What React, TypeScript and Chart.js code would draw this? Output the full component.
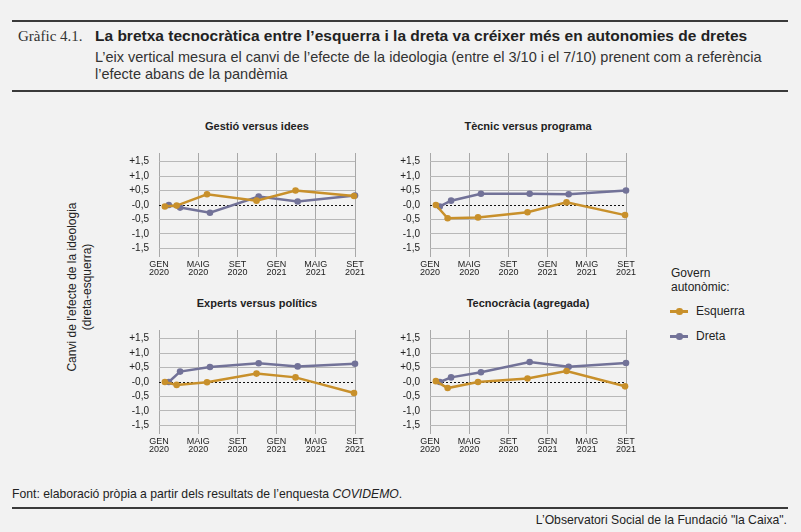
import { useEffect, useRef } from 'react';
import { Chart, registerables } from 'chart.js';

Chart.register(...registerables);

// eix X: mesos des de gener 2020
const monthTicks = [0, 4, 8, 12, 16, 20];
const monthLabels = [
  ['GEN', '2020'],
  ['MAIG', '2020'],
  ['SET', '2020'],
  ['GEN', '2021'],
  ['MAIG', '2021'],
  ['SET', '2021'],
];
const yTicks = [-1.5, -1, -0.5, 0, 0.5, 1, 1.5];

// onades de l'enquesta (mes)
const esquerraMonths = [0.6, 1.8, 4.9, 9.95, 13.93, 19.9];
const dretaMonths = [1.0, 2.15, 5.2, 10.17, 14.15, 20];

const gestioEsquerra = [-0.05, -0.02, 0.37, 0.15, 0.5, 0.31];
const gestioDreta = [0.0, -0.09, -0.27, 0.29, 0.12, 0.33];

const tecnicEsquerra = [0.0, -0.46, -0.43, -0.25, 0.09, -0.35];
const tecnicDreta = [-0.05, 0.15, 0.39, 0.39, 0.37, 0.5];

const expertsEsquerra = [0.0, -0.1, -0.01, 0.29, 0.16, -0.38];
const expertsDreta = [0.0, 0.36, 0.52, 0.65, 0.54, 0.63];

const tecnocraciaEsquerra = [0.03, -0.21, 0.0, 0.12, 0.38, -0.15];
const tecnocraciaDreta = [0.0, 0.16, 0.34, 0.69, 0.53, 0.66];

const ESQ = '#c8902b';
const DRE = '#727298';
const SANS = "'Liberation Sans', Arial, sans-serif";

type PanelProps = {
  title: string;
  esq: number[];
  dre: number[];
  left: number;
  top: number;
};

const Panel = ({ title, esq, dre, left, top }: PanelProps) => {
  const canvasRef = useRef<HTMLCanvasElement>(null);

  useEffect(() => {
    if (!canvasRef.current) return;

    const chart = new Chart(canvasRef.current, {
      type: 'line',
      data: {
        datasets: [
          {
            label: 'Esquerra',
            data: esquerraMonths.map((x, i) => ({ x, y: esq[i] })),
            borderColor: ESQ,
            backgroundColor: ESQ,
            pointBackgroundColor: ESQ,
            pointBorderColor: ESQ,
            borderWidth: 2.5,
            pointRadius: 3.3,
            pointBorderWidth: 0,
            tension: 0,
            clip: false,
          },
          {
            label: 'Dreta',
            data: dretaMonths.map((x, i) => ({ x, y: dre[i] })),
            borderColor: DRE,
            backgroundColor: DRE,
            pointBackgroundColor: DRE,
            pointBorderColor: DRE,
            borderWidth: 2.5,
            pointRadius: 3.3,
            pointBorderWidth: 0,
            tension: 0,
            clip: false,
          },
        ],
      },
      options: {
        animation: false,
        responsive: true,
        maintainAspectRatio: false,
        layout: { padding: { top: 6, right: 17, bottom: 0, left: 0 } },
        plugins: {
          legend: { display: false },
          tooltip: { enabled: false },
        },
        scales: {
          x: {
            type: 'linear',
            min: 0,
            max: 20,
            afterBuildTicks: (s: any) => {
              s.ticks = monthTicks.map((v) => ({ value: v }));
            },
            afterFit: (s: any) => {
              s.height = 24;
            },
            ticks: {
              autoSkip: false,
              maxRotation: 0,
              padding: 4,
              color: '#222',
              font: { family: SANS, size: 9, lineHeight: 0.88 },
              callback: (_v: any, i: number) => monthLabels[i],
            },
            grid: { color: '#a8a8a8', lineWidth: 1, drawTicks: false },
            border: { display: false },
          },
          y: {
            type: 'linear',
            min: -1.8,
            max: 1.8,
            afterBuildTicks: (s: any) => {
              s.ticks = yTicks.map((v) => ({ value: v }));
            },
            afterFit: (s: any) => {
              s.width = 49;
            },
            ticks: {
              padding: 10,
              color: '#222',
              font: { family: SANS, size: 10 },
              callback: (v: any) =>
                (v > 0 ? '+' : '-') + Math.abs(v).toFixed(1).replace('.', ','),
            },
            grid: {
              color: (ctx: any) => (ctx.tick && ctx.tick.value === 0 ? '#111' : '#b8b8b8'),
              lineWidth: 1,
              drawTicks: false,
            },
            border: {
              display: false,
              dash: (ctx: any) => (ctx.tick && ctx.tick.value === 0 ? [2, 2] : []),
            },
          },
        },
      },
    });

    return () => {
      chart.destroy();
    };
  }, [esq, dre]);

  return (
    <>
      <div
        style={{
          position: 'absolute',
          left: left + 49,
          top: top - 18,
          width: 196,
          textAlign: 'center',
          fontFamily: SANS,
          fontWeight: 'bold',
          fontSize: 11,
          lineHeight: '14px',
          color: '#222',
        }}
      >
        {title}
      </div>
      <div style={{ position: 'absolute', left, top, width: 262, height: 144 }}>
        <canvas ref={canvasRef} />
      </div>
    </>
  );
};

const rule = (top: number) => (
  <div style={{ position: 'absolute', left: 12, top, width: 776, height: 2, background: '#3a3a3a' }} />
);

const LegendItem = ({ color, label, top }: { color: string; label: string; top: number }) => (
  <div style={{ position: 'absolute', left: 670, top, height: 14 }}>
    <div style={{ position: 'absolute', left: 0, top: 6, width: 18, height: 2.5, background: color }} />
    <div
      style={{ position: 'absolute', left: 6, top: 4, width: 6.5, height: 6.5, borderRadius: '50%', background: color }}
    />
    <div
      style={{
        position: 'absolute',
        left: 26,
        top: 0,
        whiteSpace: 'nowrap',
        fontFamily: SANS,
        fontSize: 12,
        lineHeight: '14px',
        color: '#222',
      }}
    >
      {label}
    </div>
  </div>
);

const App = () => {
  return (
    <div
      style={{
        position: 'absolute',
        left: 0,
        top: 0,
        width: 801,
        height: 532,
        background: '#f2f2f2',
        overflow: 'hidden',
        color: '#222',
      }}
    >
      {rule(20)}
      <div
        style={{
          position: 'absolute',
          left: 18,
          top: 28,
          fontFamily: "'Liberation Serif', serif",
          fontSize: 15,
          color: '#333',
          whiteSpace: 'nowrap',
        }}
      >
        Gràfic 4.1.
      </div>
      <div
        style={{
          position: 'absolute',
          left: 95,
          top: 27,
          fontFamily: SANS,
          fontWeight: 'bold',
          fontSize: 15.5,
          whiteSpace: 'nowrap',
          color: '#222',
        }}
      >
        La bretxa tecnocràtica entre l’esquerra i la dreta va créixer més en autonomies de dretes
      </div>
      <div
        style={{
          position: 'absolute',
          left: 95,
          top: 49,
          width: 700,
          fontFamily: SANS,
          fontSize: 14.5,
          lineHeight: '17px',
          color: '#333',
          whiteSpace: 'nowrap',
        }}
      >
        L’eix vertical mesura el canvi de l’efecte de la ideologia (entre el 3/10 i el 7/10) prenent com a referència
        <br />
        l’efecte abans de la pandèmia
      </div>
      {rule(90)}

      <div
        style={{
          position: 'absolute',
          left: 79.5 - 100,
          top: 287 - 15,
          width: 200,
          height: 30,
          transform: 'rotate(-90deg)',
          textAlign: 'center',
          fontFamily: SANS,
          fontSize: 12,
          lineHeight: '15px',
          color: '#222',
          whiteSpace: 'nowrap',
        }}
      >
        Canvi de l'efecte de la ideologia
        <br />
        (dreta-esquerra)
      </div>

      <Panel title="Gestió versus idees" esq={gestioEsquerra} dre={gestioDreta} left={110} top={137} />
      <Panel title="Tècnic versus programa" esq={tecnicEsquerra} dre={tecnicDreta} left={381} top={137} />
      <Panel title="Experts versus polítics" esq={expertsEsquerra} dre={expertsDreta} left={110} top={314} />
      <Panel title="Tecnocràcia (agregada)" esq={tecnocraciaEsquerra} dre={tecnocraciaDreta} left={381} top={314} />

      <div
        style={{
          position: 'absolute',
          left: 671,
          top: 266,
          fontFamily: SANS,
          fontSize: 12,
          lineHeight: '14px',
          color: '#222',
        }}
      >
        Govern
        <br />
        autonòmic:
      </div>
      <LegendItem color={ESQ} label="Esquerra" top={304} />
      <LegendItem color={DRE} label="Dreta" top={329} />

      <div
        style={{
          position: 'absolute',
          left: 12,
          top: 487,
          fontFamily: SANS,
          fontSize: 12.2,
          color: '#222',
          whiteSpace: 'nowrap',
        }}
      >
        Font: elaboració pròpia a partir dels resultats de l’enquesta <i>COVIDEMO</i>.
      </div>
      {rule(507)}
      <div
        style={{
          position: 'absolute',
          right: 14,
          top: 513,
          fontFamily: SANS,
          fontSize: 12.2,
          color: '#222',
          whiteSpace: 'nowrap',
        }}
      >
        L’Observatori Social de la Fundació "la Caixa".
      </div>
    </div>
  );
};

export default App;
